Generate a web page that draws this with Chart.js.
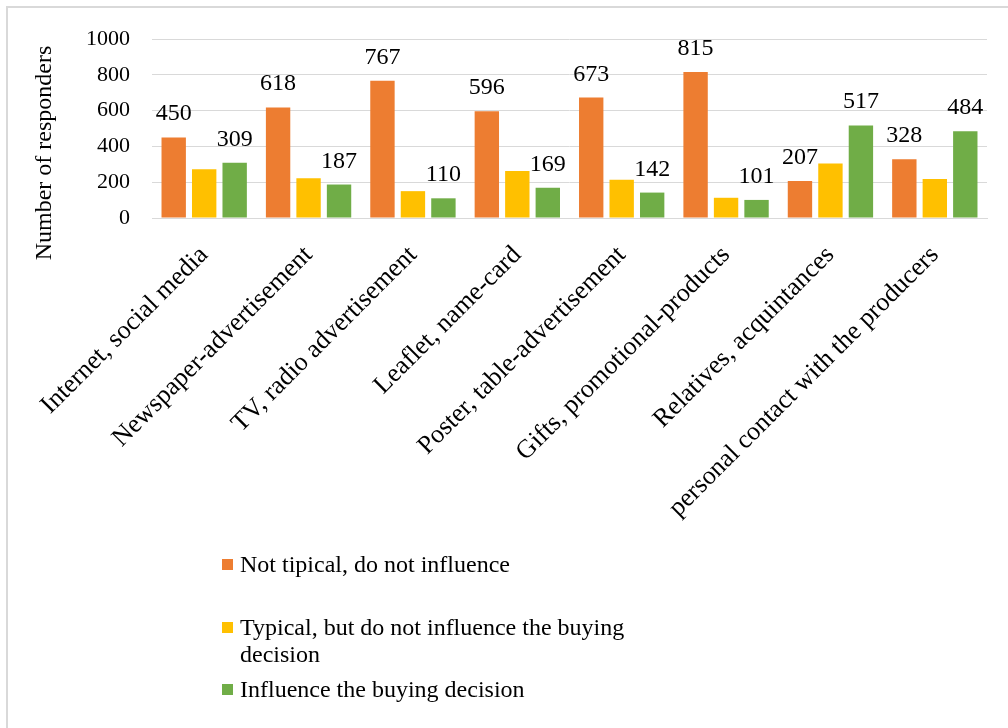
<!DOCTYPE html>
<html>
<head>
<meta charset="utf-8">
<script src="https://cdn.jsdelivr.net/npm/chart.js@4"></script>
<style>
  html, body { margin: 0; padding: 0; background: #fff; }
  body { width: 1008px; height: 728px; position: relative; overflow: hidden; }
  #frame { position: absolute; left: 6px; top: 6px; width: 1100px; height: 800px;
           border-left: 2px solid #D9D9D9; border-top: 2px solid #D9D9D9; }
  #wrap { position: absolute; left: 0; top: 0; width: 1008px; height: 728px; }
  #legend { position: absolute; left: 222px; top: 551px; width: 420px;
            font-family: "Liberation Serif", "Times New Roman", serif; font-size: 24px; color: #000; }
  .item { position: relative; padding-left: 18px; line-height: 27px; }
  .sw { position: absolute; left: 0; top: 8px; width: 11px; height: 11px; }
</style>
</head>
<body>
<div id="frame"></div>
<div id="wrap"><canvas id="chart" width="1008" height="728"></canvas></div>
<div id="legend">
  <div class="item"><span class="sw" style="background:#ED7D31"></span>Not tipical, do not influence</div>
  <div class="item" style="margin-top:36px"><span class="sw" style="background:#FFC000"></span>Typical, but do not influence the buying decision</div>
  <div class="item" style="margin-top:8px"><span class="sw" style="background:#70AD47"></span>Influence the buying decision</div>
</div>
<script>
const categories = [
  "Internet, social media",
  "Newspaper-advertisement",
  "TV, radio advertisement",
  "Leaflet, name-card",
  "Poster, table-advertisement",
  "Gifts, promotional-products",
  "Relatives, acquintances",
  "personal contact with the producers"
];
const notTypical = [450, 618, 767, 596, 673, 815, 207, 328];
const typicalNoInfluence = [272, 222, 150, 262, 213, 113, 305, 218];
const influence = [309, 187, 110, 169, 142, 101, 517, 484];
const yTicks = [0, 200, 400, 600, 800, 1000];
const yTitle = 'Number of responders';

const FONT = "'Liberation Serif', 'Times New Roman', serif";

// value labels above orange and green bars
const barLabels = {
  id: 'barLabels',
  afterDatasetsDraw(chart) {
    const ctx = chart.ctx;
    ctx.save();
    ctx.font = "24px " + FONT;
    ctx.fillStyle = '#000';
    ctx.textAlign = 'center';
    ctx.textBaseline = 'alphabetic';
    chart.data.datasets.forEach((ds, i) => {
      if (!ds.showLabels) return;
      chart.getDatasetMeta(i).data.forEach((bar, j) => {
        ctx.fillText(String(ds.data[j]), bar.x, bar.y - 17);
      });
    });
    ctx.restore();
  }
};

// y axis title, centred lower than the axis like the original
const axisTitle = {
  id: 'axisTitle',
  afterDraw(chart) {
    const ctx = chart.ctx;
    ctx.save();
    ctx.font = "24px " + FONT;
    ctx.fillStyle = '#000';
    ctx.textAlign = 'center';
    ctx.textBaseline = 'middle';
    ctx.translate(45, 153);
    ctx.rotate(-Math.PI / 2);
    ctx.fillText(yTitle, 0, 0);
    ctx.restore();
  }
};

new Chart(document.getElementById('chart'), {
  type: 'bar',
  data: {
    labels: categories,
    datasets: [
      { label: 'Not tipical, do not influence', data: notTypical, backgroundColor: '#ED7D31', showLabels: true },
      { label: 'Typical, but do not influence the buying decision', data: typicalNoInfluence, backgroundColor: '#FFC000' },
      { label: 'Influence the buying decision', data: influence, backgroundColor: '#70AD47', showLabels: true }
    ]
  },
  options: {
    responsive: false,
    animation: false,
    categoryPercentage: 0.876,
    barPercentage: 0.8,
    layout: { padding: { top: 39, left: 10, right: 21, bottom: 0 } },
    plugins: { legend: { display: false }, tooltip: { enabled: false } },
    scales: {
      x: {
        grid: { display: false, drawTicks: false },
        border: { color: '#D9D9D9', width: 1 },
        ticks: {
          color: '#000', font: { family: FONT, size: 26 },
          minRotation: 45, maxRotation: 45, autoSkip: false, padding: 22
        },
        afterFit(scale) { scale.height = 510; }
      },
      y: {
        min: 0, max: 1000,
        afterBuildTicks(scale) { scale.ticks = yTicks.map(v => ({ value: v })); },
        grid: { color: '#D9D9D9', lineWidth: 1, drawTicks: false },
        border: { display: false },
        ticks: { color: '#000', font: { family: FONT, size: 22 }, padding: 22, callback: v => String(v) },
        afterFit(scale) { scale.width = 142; }
      }
    }
  },
  plugins: [barLabels, axisTitle]
});
</script>
</body>
</html>
